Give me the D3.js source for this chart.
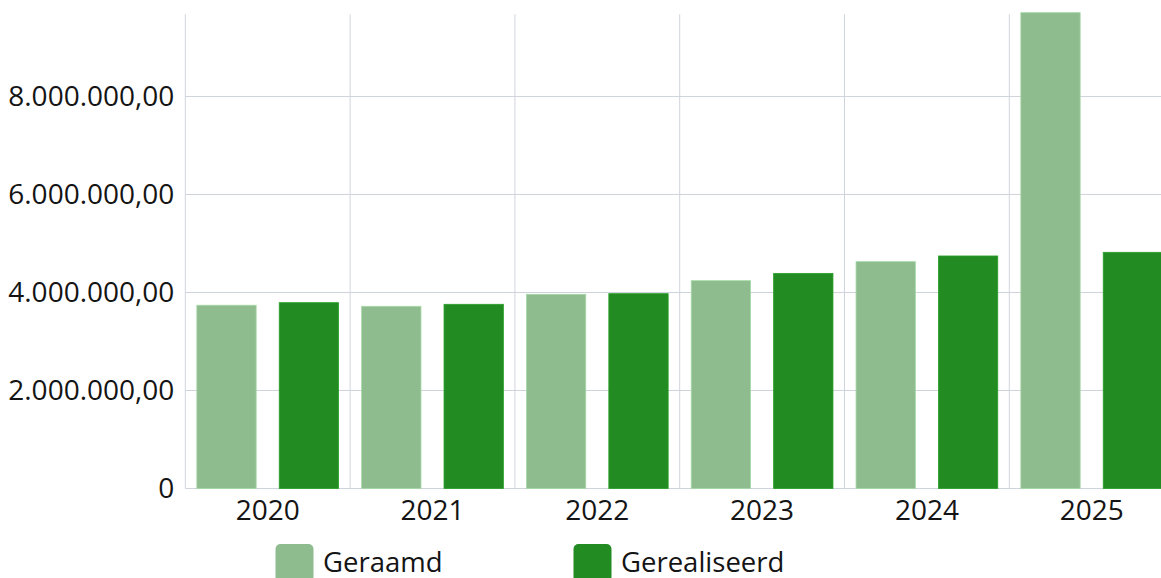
<!DOCTYPE html>
<html>
<head>
<meta charset="utf-8">
<script src="https://cdn.jsdelivr.net/npm/d3@7"></script>
<style>
  html, body { margin: 0; padding: 0; background: #fff; overflow: hidden; }
  svg { display: block; }
  text { font-family: "Open Sans", "Noto Sans", sans-serif; fill: #141414; }
</style>
</head>
<body>
<svg id="chart" width="1161" height="578"></svg>
<script>
const categories = ["2020", "2021", "2022", "2023", "2024", "2025"];
const seriesNames = ["Geraamd", "Gerealiseerd"];
const geraamd = [3740000, 3718000, 3963000, 4241000, 4629000, 9710000];
const gerealiseerd = [3792000, 3759000, 3976000, 4390000, 4745000, 4820000];
const yTicks = [0, 2000000, 4000000, 6000000, 8000000];
const colors = ["#8fbc8f", "#228b22"];

const svg = d3.select("#chart");
const plotLeft = 185.3, plotTop = 14.3, plotBottom = 488.5, bandStep = 164.8;

const x0 = d3.scaleBand().domain(categories).range([plotLeft, plotLeft + bandStep * categories.length]).padding(0);
const x1 = d3.scaleBand().domain(seriesNames).range([0, x0.bandwidth()]).paddingInner(0.28).paddingOuter(0.14);
const y = d3.scaleLinear().domain([0, 9677000]).range([plotBottom, plotTop]);

const nl = d3.formatLocale({ decimal: ",", thousands: ".", grouping: [3], currency: ["€", ""] });
const fmt = nl.format(",.2f");

// grid
const grid = svg.append("g").attr("stroke", "#cfd4dc").attr("stroke-width", 1);
grid.selectAll("line.h").data(yTicks).join("line").attr("class", "h")
  .attr("x1", plotLeft).attr("x2", 1161).attr("y1", d => y(d)).attr("y2", d => y(d));
grid.selectAll("line.v").data(categories.concat(["__end"])).join("line").attr("class", "v")
  .attr("x1", (d, i) => plotLeft + i * x0.step()).attr("x2", (d, i) => plotLeft + i * x0.step())
  .attr("y1", plotTop).attr("y2", plotBottom);

// bars
const rows = categories.map((c, i) => ({ cat: c, vals: [geraamd[i], gerealiseerd[i]] }));
const groups = svg.append("g").selectAll("g").data(rows).join("g")
  .attr("transform", d => `translate(${x0(d.cat)},0)`);
groups.selectAll("rect").data(d => d.vals.map((v, j) => ({ name: seriesNames[j], v, j }))).join("rect")
  .attr("x", d => x1(d.name))
  .attr("width", x1.bandwidth())
  .attr("y", d => y(d.v))
  .attr("height", d => y(0) - y(d.v))
  .attr("fill", d => colors[d.j])
  .attr("stroke", d => d3.color(colors[d.j]).brighter(0.4))
  .attr("stroke-width", 0.8);

// y axis
const yAxis = d3.axisLeft(y).tickValues(yTicks).tickSize(0).tickPadding(11)
  .tickFormat(d => d === 0 ? "0" : fmt(d));
const ya = svg.append("g").attr("transform", `translate(${plotLeft},0)`).call(yAxis);
ya.select(".domain").remove();
ya.selectAll("text").attr("font-size", 28).attr("fill", "#141414")
  .style("font-family", '"Open Sans", sans-serif');

// x axis
const xAxis = d3.axisBottom(x0).tickSize(0).tickPadding(12);
const xa = svg.append("g").attr("transform", `translate(0,${plotBottom})`).call(xAxis);
xa.select(".domain").remove();
xa.selectAll("text").attr("font-size", 28).attr("fill", "#141414")
  .style("font-family", '"Open Sans", sans-serif');

// legend
const legend = svg.append("g").attr("transform", "translate(275.5,544)");
const items = legend.selectAll("g").data(seriesNames).join("g")
  .attr("transform", (d, i) => `translate(${i * 298},0)`);
items.append("rect").attr("width", 38).attr("height", 38).attr("rx", 5).attr("ry", 5)
  .attr("fill", (d, i) => colors[i]);
items.append("text").attr("x", 47.5).attr("y", 28).attr("font-size", 27.5).text(d => d);
</script>
</body>
</html>
